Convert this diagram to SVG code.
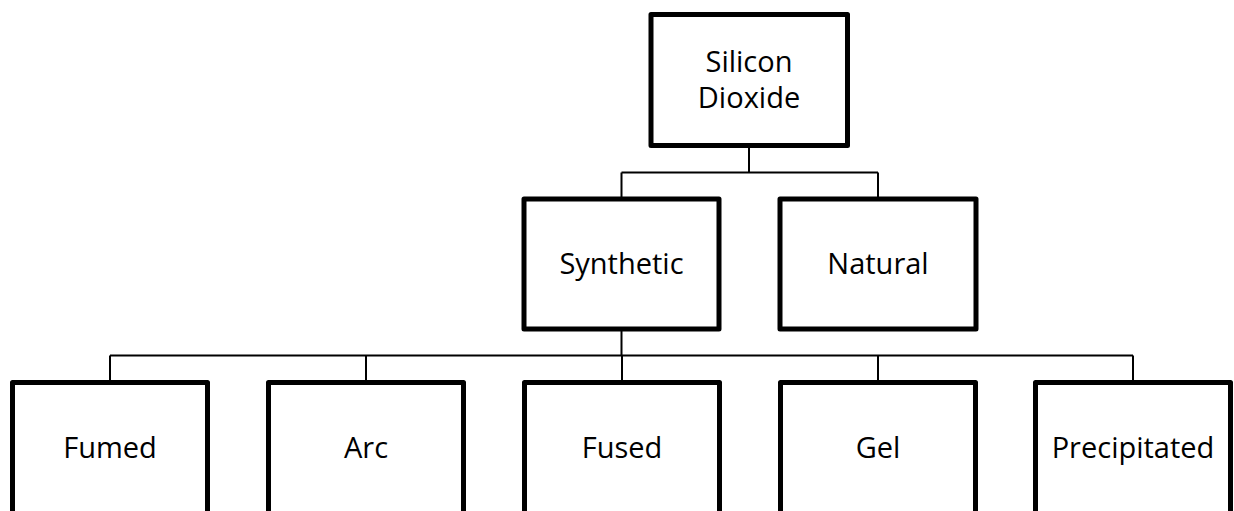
<svg xmlns="http://www.w3.org/2000/svg" width="1234" height="511" viewBox="0 0 1234 511">
<style>
.box{fill:#fff;stroke:#000;stroke-width:5;stroke-linejoin:round}
.lbl{font-family:"Open Sans","Noto Sans","Liberation Sans",sans-serif;font-size:29px;fill:#000;text-anchor:middle}
.conn{stroke:#000;stroke-width:2;fill:none}
</style>
<rect width="1234" height="511" fill="#fff"/>
<g id="connectors">
<path class="conn" d="M749 147V172.5M621.5 172.5H878M621.5 172.5V198M878 172.5V198"/>
<path class="conn" d="M621.5 331V355.5M110 355.5H1133M110 355.5V381M366 355.5V381M622 355.5V381M878 355.5V381M1133 355.5V381"/>
</g>
<g id="silicon-dioxide">
<rect class="box" x="651" y="14.5" width="196.5" height="131"/>
<text class="lbl" x="749" y="72">Silicon</text>
<text class="lbl" x="749" y="108">Dioxide</text>
</g>
<g id="synthetic">
<rect class="box" x="524" y="199" width="195" height="130"/>
<text class="lbl" x="621.5" y="274">Synthetic</text>
</g>
<g id="natural">
<rect class="box" x="780" y="199" width="196" height="130"/>
<text class="lbl" x="878" y="274">Natural</text>
</g>
<g id="fumed">
<rect class="box" x="12.5" y="382.5" width="195" height="145"/>
<text class="lbl" x="110" y="457.5">Fumed</text>
</g>
<g id="arc">
<rect class="box" x="268.5" y="382.5" width="195" height="145"/>
<text class="lbl" x="366" y="457.5">Arc</text>
</g>
<g id="fused">
<rect class="box" x="524.5" y="382.5" width="195" height="145"/>
<text class="lbl" x="622" y="457.5">Fused</text>
</g>
<g id="gel">
<rect class="box" x="780.5" y="382.5" width="195" height="145"/>
<text class="lbl" x="878" y="457.5">Gel</text>
</g>
<g id="precipitated">
<rect class="box" x="1035.5" y="382.5" width="195" height="145"/>
<text class="lbl" x="1133" y="457.5">Precipitated</text>
</g>
</svg>
